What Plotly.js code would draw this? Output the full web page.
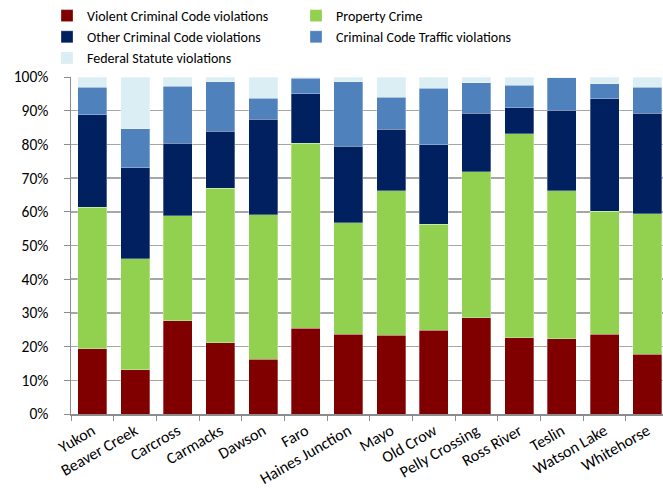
<!DOCTYPE html>
<html><head><meta charset="utf-8">
<script src="https://cdn.plot.ly/plotly-3.0.1.min.js"></script>
<style>html,body{margin:0;padding:0;background:#fff}#chart{width:663px;height:495px}</style>
</head><body><div id="chart"></div>
<script>
var categories = ["Yukon","Beaver Creek","Carcross","Carmacks","Dawson","Faro","Haines Junction","Mayo","Old Crow","Pelly Crossing","Ross River","Teslin","Watson Lake","Whitehorse"];
var violent  = [19.3,13.1,27.6,21.2,16.3,25.5,23.7,23.3,24.9,28.6,22.7,22.3,23.7,17.7];
var property = [42.0,32.9,31.2,45.8,42.8,54.9,33.0,42.9,31.4,43.3,60.5,44.0,36.5,41.7];
var other    = [27.5,27.0,21.5,16.9,28.3,14.7,22.8,18.3,23.6,17.3,7.7,23.9,33.4,29.8];
var traffic  = [8.2,11.6,17.0,14.7,6.3,4.5,19.1,9.5,16.7,9.1,6.6,9.6,4.4,7.8];
var federal  = [3.0,15.4,2.7,1.4,6.3,0.4,1.4,6.0,3.4,1.7,2.5,0.2,2.0,3.0];
var seriesNames = ["Violent Criminal Code violations","Property Crime","Other Criminal Code violations","Criminal Code Traffic violations","Federal Statute violations"];
var seriesData = [violent, property, other, traffic, federal];
var colors = ["#800000","#92d050","#002060","#4f81bd","#daeef3"];
var tickVals = [0,10,20,30,40,50,60,70,80,90,100];
var tickText = tickVals.map(function(v){return v+"%";});

var font = "Carlito, Lato, sans-serif";
var traces = seriesData.map(function(d,i){
  return {type:"bar", x:categories, y:d, name:seriesNames[i],
    marker:{color:colors[i], line:{color:"rgba(255,255,255,0.5)", width:0.6}},
    width:0.68, hoverinfo:"x+y+name"};
});
var layout = {
  width:663, height:495, barmode:"stack",
  margin:{l:71, r:0, t:75, b:81, pad:0},
  paper_bgcolor:"#fff", plot_bgcolor:"#fff",
  font:{family:font, size:14, color:"#000"},
  showlegend:true,
  legend:{orientation:"h", x:-0.0405, xanchor:"left", y:1.23, yanchor:"top",
    entrywidth:204, entrywidthmode:"pixels", traceorder:"normal",
    font:{family:font, size:14, color:"#000"}, itemwidth:30, tracegroupgap:0,
    bgcolor:"rgba(0,0,0,0)"},
  xaxis:{type:"category", range:[-0.5,13.37], tickangle:-30,
    showline:true, linecolor:"#8c8c8c", linewidth:1.5,
    ticks:"outside", tickson:"boundaries", ticklen:5, tickcolor:"#8c8c8c",
    showgrid:false, tickfont:{family:font, size:16, color:"#000"}},
  yaxis:{range:[0,100], tickvals:tickVals, ticktext:tickText,
    showline:true, linecolor:"#8c8c8c", linewidth:1.5,
    ticks:"outside", ticklen:6, tickcolor:"#8c8c8c", ticklabelstandoff:12,
    showgrid:true, gridcolor:"#a6a6a6", gridwidth:1.5, zeroline:false,
    tickfont:{family:font, size:15.5, color:"#000"}}
};
Plotly.newPlot("chart", traces, layout, {displayModeBar:false, staticPlot:true});
</script></body></html>
